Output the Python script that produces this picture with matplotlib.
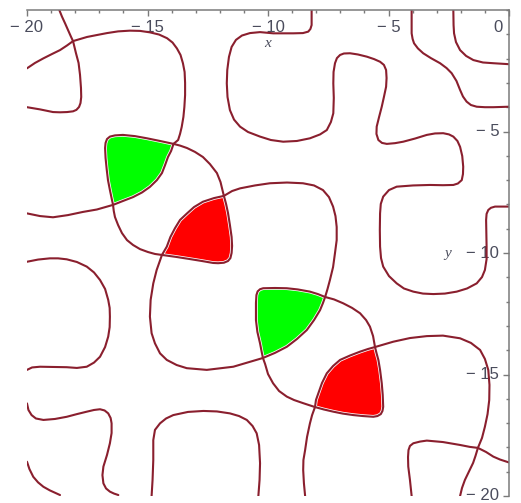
import matplotlib.pyplot as plt
import matplotlib.transforms as mtransforms
from matplotlib.ticker import MultipleLocator

# curve pieces of the implicit plot, (x, y) points; pieces meet at the crossings
a_top = [(-18.66, 0.0), (-18.55, -0.27), (-18.42, -0.55), (-18.30, -0.82),
         (-18.17, -1.11), (-18.09, -1.28)]
a_loop = [(-18.09, -1.28), (-17.97, -1.77), (-17.86, -2.18), (-17.80, -2.67),
          (-17.76, -3.21), (-17.75, -3.58), (-17.78, -3.83), (-17.84, -3.99),
          (-17.95, -4.11), (-18.09, -4.17), (-18.34, -4.20), (-18.63, -4.21),
          (-18.92, -4.20), (-19.46, -4.09), (-20.0, -4.00)]
b_left = [(-20.0, -2.40), (-19.67, -2.18), (-19.32, -1.99), (-18.96, -1.81),
          (-18.63, -1.65), (-18.34, -1.46), (-18.09, -1.28)]
b_arc = [(-18.09, -1.28), (-17.51, -1.11), (-17.10, -1.03), (-16.68, -0.95),
         (-16.22, -0.88), (-15.73, -0.85), (-15.31, -0.86), (-14.90, -0.92),
         (-14.52, -1.01), (-14.19, -1.16), (-13.96, -1.34), (-13.78, -1.58),
         (-13.63, -1.85), (-13.53, -2.19), (-13.46, -2.55), (-13.44, -3.00),
         (-13.44, -3.50), (-13.47, -3.99), (-13.51, -4.40), (-13.58, -4.81),
         (-13.65, -5.10), (-13.73, -5.35), (-13.92, -5.51)]
green1_top = [(-13.92, -5.51), (-14.48, -5.39), (-15.02, -5.28), (-15.52, -5.19),
              (-16.02, -5.14), (-16.35, -5.16), (-16.56, -5.21), (-16.68, -5.31),
              (-16.74, -5.47), (-16.76, -5.68), (-16.74, -6.09), (-16.69, -6.58),
              (-16.64, -7.00), (-16.56, -7.41), (-16.49, -7.74), (-16.43, -8.02)]
green1_diag = [(-13.92, -5.51), (-14.02, -5.80), (-14.15, -6.05), (-14.27, -6.38),
               (-14.40, -6.71), (-14.61, -7.00), (-14.90, -7.28), (-15.23, -7.51),
               (-15.60, -7.70), (-16.02, -7.86), (-16.43, -8.02)]
c3_left = [(-16.43, -8.02), (-17.10, -8.21), (-17.68, -8.31), (-18.30, -8.44),
           (-18.92, -8.53), (-19.46, -8.48), (-20.0, -8.37)]
c3_c5 = [(-16.43, -8.02), (-16.40, -8.27), (-16.35, -8.52), (-16.22, -8.85),
         (-16.06, -9.18), (-15.85, -9.47), (-15.60, -9.67), (-15.31, -9.84),
         (-14.98, -9.96), (-14.69, -10.04), (-14.40, -10.08)]
c2_c4 = [(-13.92, -5.51), (-13.65, -5.58), (-13.36, -5.68), (-13.03, -5.84),
         (-12.70, -6.05), (-12.41, -6.34), (-12.12, -6.71), (-11.97, -7.08),
         (-11.89, -7.41), (-11.83, -7.65)]
loop_right = [(-11.83, -7.65), (-11.49, -7.45), (-11.16, -7.34), (-10.54, -7.22),
              (-9.92, -7.13), (-9.21, -7.10), (-8.55, -7.13), (-8.09, -7.22),
              (-7.72, -7.41), (-7.47, -7.70), (-7.30, -8.09), (-7.20, -8.48),
              (-7.15, -8.93), (-7.15, -9.47), (-7.22, -10.00), (-7.30, -10.58),
              (-7.43, -11.11), (-7.53, -11.48), (-7.63, -11.81)]
red1_right = [(-11.83, -7.65), (-11.74, -7.98), (-11.66, -8.35), (-11.58, -8.85),
              (-11.51, -9.34), (-11.49, -9.71), (-11.51, -10.00), (-11.56, -10.21),
              (-11.66, -10.33), (-11.83, -10.40), (-12.07, -10.42), (-12.28, -10.41),
              (-12.74, -10.33), (-13.24, -10.25), (-13.82, -10.16), (-14.40, -10.08)]
red1_diag = [(-11.83, -7.65), (-12.24, -7.74), (-12.70, -7.89), (-13.07, -8.11),
             (-13.36, -8.37), (-13.65, -8.64), (-13.86, -8.98), (-14.05, -9.34),
             (-14.20, -9.74), (-14.40, -10.08)]
loop_left = [(-14.40, -10.08), (-14.62, -10.70), (-14.76, -11.25), (-14.87, -11.93),
             (-14.90, -12.62), (-14.83, -13.30), (-14.69, -13.72), (-14.48, -14.13),
             (-14.20, -14.40), (-13.79, -14.61), (-13.37, -14.74), (-12.54, -14.81),
             (-11.44, -14.68), (-10.21, -14.32)]
green2_top = [(-7.63, -11.81), (-7.93, -11.69), (-8.26, -11.59), (-8.76, -11.50),
              (-9.22, -11.45), (-9.71, -11.44), (-10.20, -11.45), (-10.33, -11.49),
              (-10.43, -11.58), (-10.48, -11.73), (-10.50, -12.06), (-10.50, -12.76),
              (-10.44, -13.25), (-10.33, -13.72), (-10.27, -14.03), (-10.21, -14.32)]
green2_diag = [(-10.21, -14.32), (-9.71, -14.11), (-9.22, -13.86), (-8.80, -13.54),
               (-8.39, -13.17), (-8.09, -12.76), (-7.84, -12.35), (-7.72, -12.06),
               (-7.63, -11.81)]
c6_c8 = [(-7.63, -11.81), (-7.26, -11.91), (-6.88, -12.07), (-6.51, -12.26),
         (-6.18, -12.48), (-5.93, -12.76), (-5.77, -13.03), (-5.64, -13.42),
         (-5.56, -13.87)]
c8_c10 = [(-5.56, -13.87), (-4.80, -13.65), (-4.11, -13.50), (-3.41, -13.42),
          (-2.74, -13.40), (-2.03, -13.51), (-1.58, -13.70), (-1.20, -13.99),
          (-1.00, -14.36), (-0.86, -14.81), (-0.81, -15.43), (-0.82, -16.05),
          (-0.89, -16.63), (-1.00, -17.15), (-1.12, -17.61), (-1.29, -18.02)]
c10_down = [(-1.29, -18.02), (-1.39, -18.35), (-1.49, -18.64), (-1.66, -18.99),
            (-1.83, -19.34), (-1.95, -19.67), (-2.03, -20.0)]
n_curve = [(-4.04, -20.0), (-4.11, -19.34), (-4.18, -18.79), (-4.19, -18.40),
           (-4.17, -18.11), (-4.11, -17.94), (-3.97, -17.83), (-3.69, -17.76),
           (-3.41, -17.72), (-2.74, -17.78), (-2.03, -17.90), (-1.62, -17.98),
           (-1.29, -18.02), (-0.95, -18.19), (-0.65, -18.38), (-0.37, -18.50),
           (0.0, -18.62)]
red2_right = [(-5.56, -13.87), (-5.50, -14.11), (-5.42, -14.40), (-5.35, -14.81),
              (-5.28, -15.36), (-5.24, -15.84), (-5.22, -16.33), (-5.25, -16.50),
              (-5.32, -16.63), (-5.46, -16.71), (-5.63, -16.74), (-6.06, -16.71),
              (-6.46, -16.67), (-6.89, -16.61), (-7.29, -16.53), (-7.68, -16.44),
              (-8.05, -16.34)]
red2_diag = [(-5.56, -13.87), (-5.85, -13.95), (-6.18, -14.06), (-6.60, -14.22),
             (-7.01, -14.40), (-7.30, -14.65), (-7.56, -14.95), (-7.76, -15.35),
             (-7.91, -15.77), (-8.01, -16.05), (-8.05, -16.34)]
c7_c9 = [(-10.21, -14.32), (-10.12, -14.57), (-10.00, -14.98), (-9.79, -15.36),
         (-9.54, -15.68), (-9.22, -15.91), (-8.92, -16.05), (-8.54, -16.18),
         (-8.05, -16.34)]
c9_down = [(-8.05, -16.34), (-8.17, -16.67), (-8.26, -17.01), (-8.38, -17.57),
           (-8.46, -18.11), (-8.53, -18.52), (-8.54, -18.93), (-8.51, -19.47),
           (-8.46, -20.0)]
d_curve = [(-8.19, 0.0), (-8.19, -0.62), (-8.24, -0.78), (-8.33, -0.89), (-8.55, -0.95),
           (-8.95, -0.96), (-9.78, -0.96), (-10.33, -0.91), (-10.75, -0.95),
           (-11.08, -1.05), (-11.33, -1.23), (-11.51, -1.52), (-11.62, -1.93),
           (-11.69, -2.47), (-11.71, -3.02), (-11.68, -3.58), (-11.58, -4.12),
           (-11.41, -4.51), (-11.16, -4.80), (-10.83, -5.02), (-10.33, -5.21),
           (-9.88, -5.35), (-9.37, -5.42), (-8.80, -5.39), (-8.26, -5.28),
           (-7.84, -5.12), (-7.56, -4.94), (-7.39, -4.61), (-7.29, -4.25),
           (-7.27, -3.62), (-7.29, -3.02), (-7.28, -2.55), (-7.22, -2.19),
           (-7.14, -1.98), (-7.01, -1.85), (-6.85, -1.79), (-6.60, -1.78),
           (-6.27, -1.83), (-5.90, -1.92), (-5.60, -2.02), (-5.35, -2.13),
           (-5.19, -2.26), (-5.10, -2.47), (-5.08, -2.80), (-5.10, -3.16),
           (-5.19, -3.58), (-5.28, -3.98), (-5.39, -4.40), (-5.49, -4.80),
           (-5.50, -5.10), (-5.42, -5.35), (-5.27, -5.47), (-5.07, -5.51),
           (-4.73, -5.48), (-4.39, -5.42), (-3.90, -5.29), (-3.41, -5.14),
           (-3.07, -5.08), (-2.73, -5.07), (-2.49, -5.12), (-2.31, -5.21),
           (-2.14, -5.39), (-2.03, -5.63), (-1.94, -6.01), (-1.90, -6.45),
           (-1.91, -6.75), (-1.96, -7.00), (-2.12, -7.14), (-2.31, -7.20),
           (-2.74, -7.21), (-3.28, -7.20), (-3.98, -7.22), (-4.66, -7.27),
           (-4.98, -7.41), (-5.22, -7.68), (-5.32, -7.98), (-5.35, -8.37),
           (-5.36, -9.05), (-5.35, -9.74), (-5.31, -10.21), (-5.22, -10.56),
           (-4.98, -10.95), (-4.66, -11.25), (-4.36, -11.46), (-3.97, -11.59),
           (-3.57, -11.67), (-3.14, -11.69), (-2.66, -11.67), (-2.17, -11.59),
           (-1.74, -11.46), (-1.34, -11.25), (-1.12, -10.99), (-1.00, -10.70),
           (-0.93, -10.25), (-0.93, -9.74), (-0.94, -9.18), (-0.95, -8.64),
           (-0.93, -8.39), (-0.86, -8.23), (-0.75, -8.14), (-0.58, -8.09),
           (-0.29, -8.09), (0.0, -8.09)]
e_curve = [(-4.04, 0.0), (-4.04, -0.96), (-4.00, -1.19), (-3.94, -1.37), (-3.78, -1.58),
           (-3.56, -1.78), (-3.24, -1.98), (-2.86, -2.19), (-2.59, -2.39),
           (-2.38, -2.60), (-2.18, -2.92), (-2.03, -3.29), (-1.91, -3.56),
           (-1.76, -3.77), (-1.58, -3.91), (-1.34, -3.98), (-1.00, -4.00),
           (-0.65, -4.00), (0.0, -3.98)]
f_curve = [(-2.31, 0.0), (-2.30, -0.62), (-2.28, -0.96), (-2.20, -1.32), (-2.03, -1.65),
           (-1.78, -1.89), (-1.48, -2.06), (-1.08, -2.16), (-0.65, -2.19),
           (0.0, -2.23)]
h_curve = [(-20.0, -10.36), (-19.54, -10.27), (-19.05, -10.22), (-18.71, -10.22),
           (-18.35, -10.26), (-17.93, -10.37), (-17.52, -10.56), (-17.22, -10.80),
           (-16.97, -11.11), (-16.76, -11.48), (-16.63, -11.93), (-16.57, -12.26),
           (-16.56, -12.62), (-16.57, -13.05), (-16.63, -13.44), (-16.76, -13.87),
           (-16.97, -14.27), (-17.22, -14.51), (-17.52, -14.68), (-17.93, -14.73),
           (-18.35, -14.70), (-18.92, -14.69), (-19.46, -14.68), (-19.79, -14.71),
           (-20.0, -14.81)]
i_curve = [(-20.0, -16.19), (-19.94, -16.46), (-19.81, -16.67), (-19.63, -16.81),
           (-19.32, -16.87), (-18.84, -16.83), (-18.35, -16.74), (-17.93, -16.63),
           (-17.52, -16.53), (-17.22, -16.46), (-16.97, -16.43), (-16.78, -16.48),
           (-16.63, -16.60), (-16.53, -16.79), (-16.49, -17.01), (-16.49, -17.41),
           (-16.56, -17.83), (-16.68, -18.31), (-16.83, -18.79), (-16.87, -19.14),
           (-16.83, -19.48), (-16.72, -19.69), (-16.56, -19.82), (-16.39, -19.90),
           (-16.21, -19.96)]
j_curve = [(-20.0, -18.59), (-19.90, -18.89), (-19.74, -19.21), (-19.54, -19.44),
           (-19.32, -19.62), (-19.05, -19.77), (-18.63, -19.96)]
k_curve = [(-14.83, -20.0), (-14.79, -19.34), (-14.76, -18.52), (-14.76, -17.70),
           (-14.69, -17.28), (-14.48, -17.01), (-14.23, -16.81), (-13.93, -16.67),
           (-13.32, -16.54), (-12.68, -16.50), (-12.12, -16.52), (-11.58, -16.60),
           (-11.20, -16.71), (-10.88, -16.87), (-10.64, -17.12), (-10.47, -17.42),
           (-10.37, -17.90), (-10.33, -18.65), (-10.35, -19.34), (-10.40, -20.0)]

xtick_vals = [-20, -15, -10, -5, 0]
xtick_text = ["\u2212 20", "\u2212 15", "\u2212 10", "\u2212 5", "0"]
ytick_vals = [-20, -15, -10, -5]
ytick_text = ["\u2212 20", "\u2212 15", "\u2212 10", "\u2212 5"]

curve_col = "#8a1f2e"
axis_col = "#7a7a7a"
text_col = "#4a4c5c"
tick_font = "Liberation Sans"
plt.rcParams["font.family"] = ["Liberation Serif", "DejaVu Serif"]

fig = plt.figure(figsize=(5.21, 5.03), dpi=100)
ax = fig.add_axes([27 / 521, 7 / 503, 482 / 521, 486 / 503])
ax.set_xlim(-20, 0)
ax.set_ylim(-20, 0)


def xy(points):
    return [p[0] for p in points], [p[1] for p in points]


# filled cells: outer arc + diagonal arc run back
regions = [
    (green1_top + green1_diag[::-1], "#00ff00"),
    (red1_right + red1_diag[::-1], "#ff0000"),
    (green2_top + green2_diag, "#00ff00"),
    (red2_right + red2_diag[::-1], "#ff0000"),
]
for pts, col in regions:
    px, py = xy(pts)
    ax.fill(px, py, facecolor=col, edgecolor="white", linewidth=2.6,
            joinstyle="round", zorder=1)

pieces = [a_top, a_loop, b_left, b_arc, green1_top, green1_diag, c3_left, c3_c5,
          c2_c4, loop_right, red1_right, red1_diag, loop_left, green2_top,
          green2_diag, c6_c8, c8_c10, c10_down, n_curve, red2_right, red2_diag,
          c7_c9, c9_down, d_curve, e_curve, f_curve, h_curve, i_curve, j_curve,
          k_curve]
for seg in pieces:
    px, py = xy(seg)
    ax.plot(px, py, color=curve_col, linewidth=1.5, solid_capstyle="round",
            solid_joinstyle="round", zorder=2)

# axes through the origin: x along the top, y along the right
for side in ["left", "bottom"]:
    ax.spines[side].set_visible(False)
for side in ["top", "right"]:
    ax.spines[side].set_color(axis_col)
    ax.spines[side].set_linewidth(1.1)

ax.xaxis.tick_top()
ax.yaxis.tick_right()
ax.set_xticks(xtick_vals)
ax.set_xticklabels(xtick_text, family=tick_font)
ax.set_yticks(ytick_vals)
ax.set_yticklabels(ytick_text, family=tick_font)
ax.xaxis.set_minor_locator(MultipleLocator(1))
ax.yaxis.set_minor_locator(MultipleLocator(1))
ax.tick_params(axis="x", which="both", direction="in", top=True, bottom=False,
               labeltop=True, labelbottom=False, pad=-18, colors=axis_col,
               labelcolor=text_col, labelsize=12)
ax.tick_params(axis="y", which="both", direction="in", right=True, left=False,
               labelright=True, labelleft=False, pad=-7, colors=axis_col,
               labelcolor=text_col, labelsize=12)
ax.tick_params(which="major", length=4, width=1.0)
ax.tick_params(which="minor", length=2.2, width=1.0)
for lab in ax.get_yticklabels():
    lab.set_horizontalalignment("right")
    lab.set_verticalalignment("center")
zero_lab = ax.get_xticklabels()[-1]
zero_lab.set_horizontalalignment("right")
zero_lab.set_transform(zero_lab.get_transform()
                       + mtransforms.ScaledTranslation(-0.06, 0, fig.dpi_scale_trans))

ax.text(-10, -1.36, "x", style="italic", fontsize=11, color=text_col,
        ha="center", va="center")
ax.text(-2.55, -10.0, "y", style="italic", fontsize=11, color=text_col,
        ha="center", va="center")

fig.savefig("out.png", dpi=100)
